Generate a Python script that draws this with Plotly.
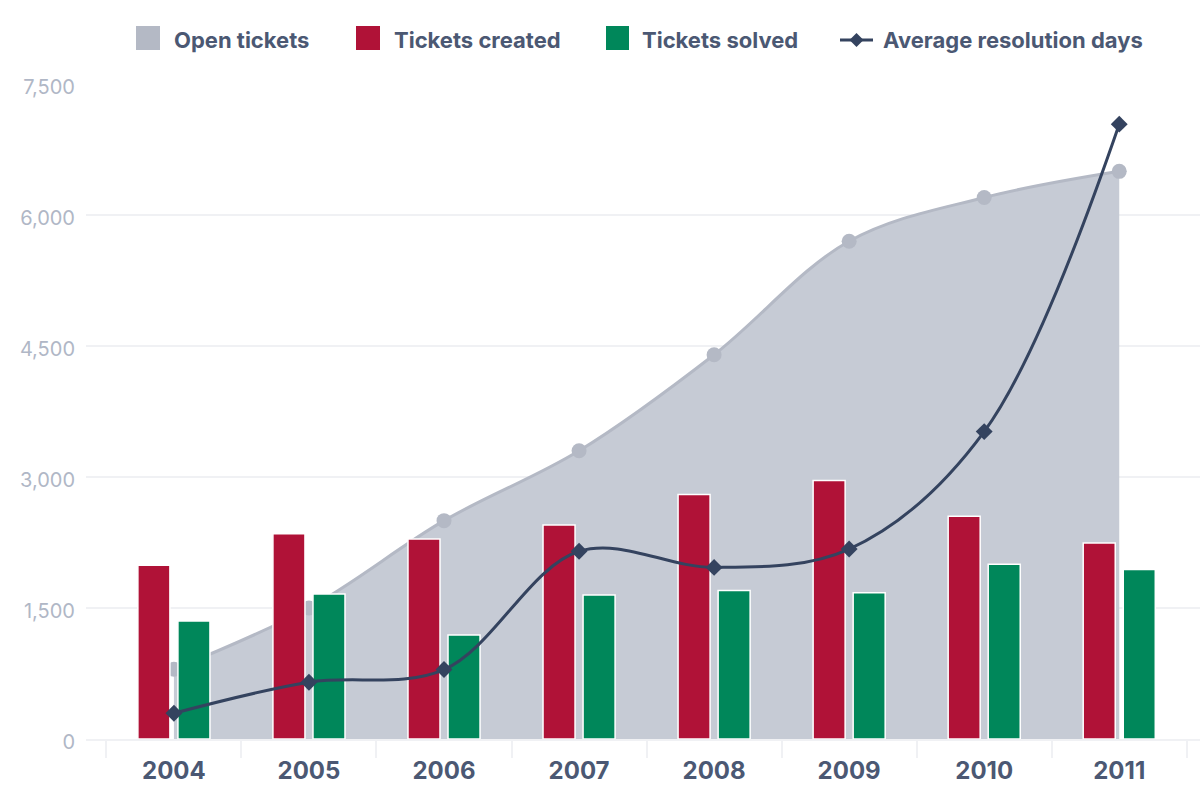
import plotly.graph_objects as go

years = ["2004", "2005", "2006", "2007", "2008", "2009", "2010", "2011"]
open_tickets = [800, 1500, 2500, 3300, 4400, 5700, 6200, 6500]
tickets_created = [1990, 2350, 2290, 2450, 2800, 2960, 2550, 2245]
tickets_solved = [1350, 1660, 1190, 1650, 1700, 1675, 2000, 1940]
avg_resolution_days = [2.95, 6.5, 7.95, 21.5, 19.65, 21.75, 35.2, 70.4]
y_ticks = [0, 1500, 3000, 4500, 6000, 7500]

C_AREA_FILL = "#c6cbd5"
C_AREA_LINE = "#b4b9c5"
C_RED = "#b01237"
C_GREEN = "#00875a"
C_LINE = "#34435f"
C_TEXT = "#4b5873"
C_TICK = "#b0b7c6"
C_GRID = "#f0f1f4"
FONT = "Inter"

fig = go.Figure()

# base subplot: area
fig.add_trace(go.Scatter(
    x=years, y=open_tickets, name="Open tickets",
    mode="lines+markers", fill="tozeroy", fillcolor=C_AREA_FILL,
    line=dict(color=C_AREA_LINE, width=3, shape="spline"),
    marker=dict(color=C_AREA_LINE, size=15),
    showlegend=False, xaxis="x", yaxis="y",
))
# overlay subplot: bars
fig.add_trace(go.Bar(
    x=years, y=tickets_created, name="Tickets created",
    marker=dict(color=C_RED, line=dict(color="white", width=1.5)),
    showlegend=False, xaxis="x", yaxis="y2", offsetgroup="c",
))
fig.add_trace(go.Bar(
    x=years, y=tickets_solved, name="Tickets solved",
    marker=dict(color=C_GREEN, line=dict(color="white", width=1.5)),
    showlegend=False, xaxis="x", yaxis="y2", offsetgroup="s",
))
# top overlay: line
fig.add_trace(go.Scatter(
    x=years, y=avg_resolution_days, name="Average resolution days",
    mode="lines+markers", xaxis="x", yaxis="y3",
    line=dict(color=C_LINE, width=3, shape="spline"),
    marker=dict(color=C_LINE, size=13, symbol="diamond"),
    showlegend=False,
))

L, R, T, B = 86, 0, 84, 61
W, H = 1200, 800
PW, PH = W - L - R, H - T - B


def px(x):
    return (x - L) / PW


def py(y):
    return (H - B - y) / PH


legend_items = [
    ("Open tickets", C_AREA_LINE, "square", 136, 160, 172),
    ("Tickets created", C_RED, "square", 356, 380, 392),
    ("Tickets solved", C_GREEN, "square", 606, 629, 640),
    ("Average resolution days", C_LINE, "line", 840, 873, 881),
]
shapes = []
annotations = []
for label, color, kind, x0, x1, tx in legend_items:
    if kind == "square":
        shapes.append(dict(type="rect", xref="paper", yref="paper",
                           x0=px(x0), x1=px(x1), y0=py(50), y1=py(26),
                           fillcolor=color, line=dict(width=0)))
    else:
        shapes.append(dict(type="line", xref="paper", yref="paper",
                           x0=px(x0), x1=px(x1), y0=py(40), y1=py(40),
                           line=dict(color=color, width=3)))
        cx, cy, r = (x0 + x1) / 2, 40, 7
        path = (f"M {px(cx - r)} {py(cy)} L {px(cx)} {py(cy - r)} "
                f"L {px(cx + r)} {py(cy)} L {px(cx)} {py(cy + r)} Z")
        shapes.append(dict(type="path", xref="paper", yref="paper", path=path,
                           fillcolor=color, line=dict(width=0)))
    annotations.append(dict(text=label, xref="paper", yref="paper",
                            x=px(tx), y=py(40), xanchor="left", yanchor="middle",
                            showarrow=False,
                            font=dict(family=FONT, size=22, color=C_TEXT, weight=700)))

fig.update_layout(
    width=W, height=H,
    margin=dict(l=L, r=R, t=T, b=B),
    paper_bgcolor="white", plot_bgcolor="white",
    barmode="group", bargap=0.407, bargroupgap=0.2,
    showlegend=False,
    shapes=shapes, annotations=annotations,
    xaxis=dict(
        type="category", range=[-0.651, 7.598],
        showgrid=False, showline=True, linecolor=C_GRID, linewidth=2,
        ticks="outside", tickson="boundaries", ticklen=17, tickcolor=C_GRID, tickwidth=2,
        ticklabelstandoff=9,
        tickfont=dict(family=FONT, size=24, color=C_TEXT, weight=700),
        zeroline=False,
    ),
    yaxis=dict(
        range=[0, 7500], tickvals=y_ticks, tickformat=",",
        showgrid=True, gridcolor=C_GRID, gridwidth=1.5,
        zeroline=False, showline=False, ticks="",
        ticklabelstandoff=10, ticklabelshift=3,
        tickfont=dict(family=FONT, size=20, color=C_TICK),
    ),
    yaxis2=dict(range=[0, 7500], overlaying="y", visible=False),
    yaxis3=dict(range=[0, 75], overlaying="y", visible=False),
)

fig.write_html("out.html")
